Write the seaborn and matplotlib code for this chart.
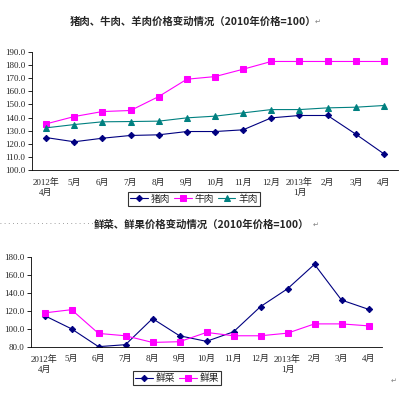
import numpy as np
import pandas as pd
import seaborn as sns
import matplotlib.pyplot as plt

sns.set_theme(style="white")
plt.rcParams["font.family"] = ["Liberation Serif", "Noto Sans CJK SC", "DejaVu Sans"]

# ---- data ----
months = ["2012年\n4月", "5月", "6月", "7月", "8月", "9月", "10月", "11月", "12月",
          "2013年\n1月", "2月", "3月", "4月"]
pork = [124.8, 121.6, 124.3, 126.4, 126.9, 129.4, 129.4, 130.7, 139.8, 141.6, 141.6, 127.4, 112.4]
beef = [135.2, 140.8, 144.6, 145.4, 156.0, 169.2, 171.2, 176.8, 182.7, 182.7, 182.7, 182.7, 182.7]
mutton = [132.2, 134.7, 136.8, 137.0, 137.3, 139.8, 141.1, 143.6, 146.1, 146.1, 147.4, 147.9, 149.2]
veg = [114.9, 100.2, 80.4, 82.6, 111.6, 92.5, 86.3, 96.9, 124.9, 144.7, 171.9, 132.2, 121.9]
fruit = [117.9, 121.5, 95.1, 92.5, 85.1, 85.9, 96.2, 92.5, 92.5, 95.4, 105.7, 105.7, 103.5]

title_top = "猪肉、牛肉、羊肉价格变动情况（2010年价格=100）"
title_bot = "鲜菜、鲜果价格变动情况（2010年价格=100）"

NAVY, MAGENTA, TEAL = "#000080", "#FF00FF", "#008080"
cjk = ["Noto Sans CJK SC", "DejaVu Sans"]

fig = plt.figure(figsize=(4.0, 3.93), dpi=100)
ax1 = fig.add_axes([0.08, 0.567, 0.915, 0.301])
ax2 = fig.add_axes([0.0775, 0.117, 0.8775, 0.229])

idx = np.arange(len(months))


def style_axis(ax, ylo, yhi, step):
    ax.set_xlim(-0.5, len(months) - 0.5)
    ax.set_ylim(ylo, yhi)
    ax.set_yticks(np.arange(ylo, yhi + 0.1, step))
    ax.set_yticklabels([f"{v:.1f}" for v in np.arange(ylo, yhi + 0.1, step)], fontsize=6.5)
    ax.set_xticks(idx)
    ax.set_xticklabels(months, fontsize=6.5, linespacing=1.3)
    ax.set_xticks(np.arange(-0.5, len(months)), minor=True)
    ax.tick_params(axis="x", which="major", length=0, pad=6)
    ax.tick_params(axis="x", which="minor", length=3, direction="out", width=0.6, color="black")
    ax.tick_params(axis="y", length=3, direction="out", width=0.6, color="black", pad=2, left=True)
    for s in ["top", "right"]:
        ax.spines[s].set_visible(False)
    for s in ["left", "bottom"]:
        ax.spines[s].set_color("black")
        ax.spines[s].set_linewidth(0.6)
    ax.set_xlabel("")
    ax.set_ylabel("")
    ax.grid(False)


sns.lineplot(x=idx, y=pork, ax=ax1, color=NAVY, marker="D", markersize=3.2, lw=0.8,
             markeredgecolor=NAVY, label="猪肉")
sns.lineplot(x=idx, y=beef, ax=ax1, color=MAGENTA, marker="s", markersize=3.8, lw=0.8,
             markeredgecolor=MAGENTA, label="牛肉")
sns.lineplot(x=idx, y=mutton, ax=ax1, color=TEAL, marker="^", markersize=3.8, lw=0.8,
             markeredgecolor=TEAL, label="羊肉")
style_axis(ax1, 100, 190, 10)

sns.lineplot(x=idx, y=veg, ax=ax2, color=NAVY, marker="D", markersize=3.2, lw=0.8,
             markeredgecolor=NAVY, label="鲜菜")
sns.lineplot(x=idx, y=fruit, ax=ax2, color=MAGENTA, marker="s", markersize=3.8, lw=0.8,
             markeredgecolor=MAGENTA, label="鲜果")
style_axis(ax2, 80, 180, 20)

for ax, anchor in [(ax1, (0.485, 0.494)), (ax2, (0.443, 0.038))]:
    h, l = ax.get_legend_handles_labels()
    ax.get_legend().remove()
    leg = fig.legend(h, l, loc="center", bbox_to_anchor=anchor, ncol=len(l),
                     frameon=True, fancybox=False, edgecolor="black", handlelength=1.8,
                     handletextpad=0.3, columnspacing=0.4, borderpad=0.2,
                     prop={"family": cjk, "size": 7})
    leg.get_frame().set_linewidth(0.8)

fig.text(0.483, 0.944, title_top, ha="center", va="center", fontsize=7.5,
         fontweight="bold", family=cjk)
fig.text(0.505, 0.428, title_bot, ha="center", va="center", fontsize=7.5,
         fontweight="bold", family=cjk)
fig.text(0.795, 0.944, "↵", ha="center", va="center", fontsize=5, color="gray", family=["DejaVu Sans"])
fig.text(0.79, 0.428, "↵", ha="center", va="center", fontsize=5, color="gray", family=["DejaVu Sans"])
fig.text(0.985, 0.03, "↵", ha="center", va="center", fontsize=5, color="gray", family=["DejaVu Sans"])

# dotted separator on the left of the second title
fig.add_artist(plt.Line2D([0.0, 0.24], [0.433, 0.433], transform=fig.transFigure,
                          color="gray", lw=0.6, ls=(0, (1, 4))))

fig.savefig("out.png", dpi=100)
